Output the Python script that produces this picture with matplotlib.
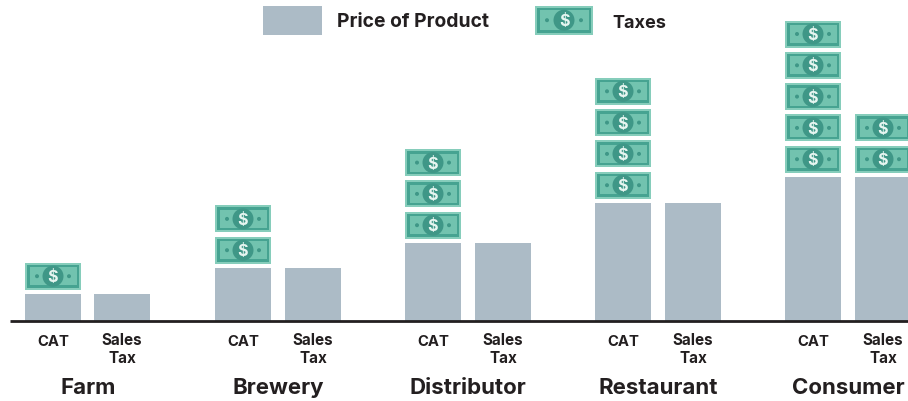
import matplotlib
matplotlib.use("Agg")
import matplotlib.pyplot as plt
from matplotlib.patches import Rectangle, Circle

plt.rcParams['font.family'] = ['Inter', 'DejaVu Sans']

groups = ["Farm", "Brewery", "Distributor", "Restaurant", "Consumer"]
prices = [27, 53, 78, 118, 144]
cat_bills = [1, 2, 3, 4, 5]
sales_bills = [0, 0, 0, 0, 2]

GREY = "#acbbc6"
DARK = "#231f20"

fig = plt.figure(figsize=(9.08, 4.02), dpi=100)
ax = fig.add_axes([0, 0, 1, 1])
# one unit is one pixel, zero is the base line
ax.set_xlim(0, 908)
ax.set_ylim(-80.3, 321.7)
ax.axis("off")


def draw_bill(x, y, w=56, h=27):
    # x, y is lower left corner
    ax.add_patch(Rectangle((x, y), w, h, fc="#86cdbb", ec="none", zorder=3))
    ax.add_patch(Rectangle((x + 2, y + 2), w - 4, h - 4, fc="#46a391", ec="none", zorder=4))
    ax.add_patch(Rectangle((x + 4.5, y + 4.5), w - 9, h - 9, fc="#72c3af", ec="none", zorder=5))
    ax.add_patch(Circle((x + w / 2, y + h / 2), 10.5, fc="#3f9787", ec="none", zorder=6))
    ax.add_patch(Circle((x + 12, y + h / 2), 2, fc="#3f9787", ec="none", zorder=6))
    ax.add_patch(Circle((x + w - 12, y + h / 2), 2, fc="#3f9787", ec="none", zorder=6))
    ax.text(x + w / 2, y + h / 2 - 0.5, "$", color="#e6f5f0", fontsize=11.5, fontweight="bold",
            ha="center", va="center", zorder=7)


for i, name in enumerate(groups):
    x0 = 25 + i * 190
    x1 = x0 + 70 if i > 0 else x0 + 69
    ax.bar([x0, x1], [prices[i], prices[i]], width=56, align="edge", color=GREY, zorder=1)
    for n in range(cat_bills[i]):
        draw_bill(x0, prices[i] + 4 + n * 31.3)
    for n in range(sales_bills[i]):
        draw_bill(x1, prices[i] + 4 + n * 31.3)
    ax.text(x0 + 28, -20, "CAT", fontsize=10.7, fontweight="bold", color=DARK, ha="center", va="center")
    ax.text(x1 + 28, -28, "Sales\nTax", fontsize=11, fontweight="bold", color=DARK, ha="center",
            va="center", linespacing=1.2)
    ax.text(x0 + 63, -66.5, name, fontsize=16, fontweight="bold", color=DARK, ha="center", va="center")

ax.plot([10, 908], [0, 0], color=DARK, lw=2, zorder=2, solid_capstyle="butt")

# legend
ax.add_patch(Rectangle((263, 286), 59, 29, fc=GREY, ec="none"))
ax.text(337, 299.5, "Price of Product", fontsize=13.9, fontweight="bold", color=DARK, va="center")
draw_bill(535, 286, w=58, h=29)
ax.text(612, 298.5, "Taxes", fontsize=13, fontweight="bold", color=DARK, va="center")

fig.savefig("out.png", dpi=100)
